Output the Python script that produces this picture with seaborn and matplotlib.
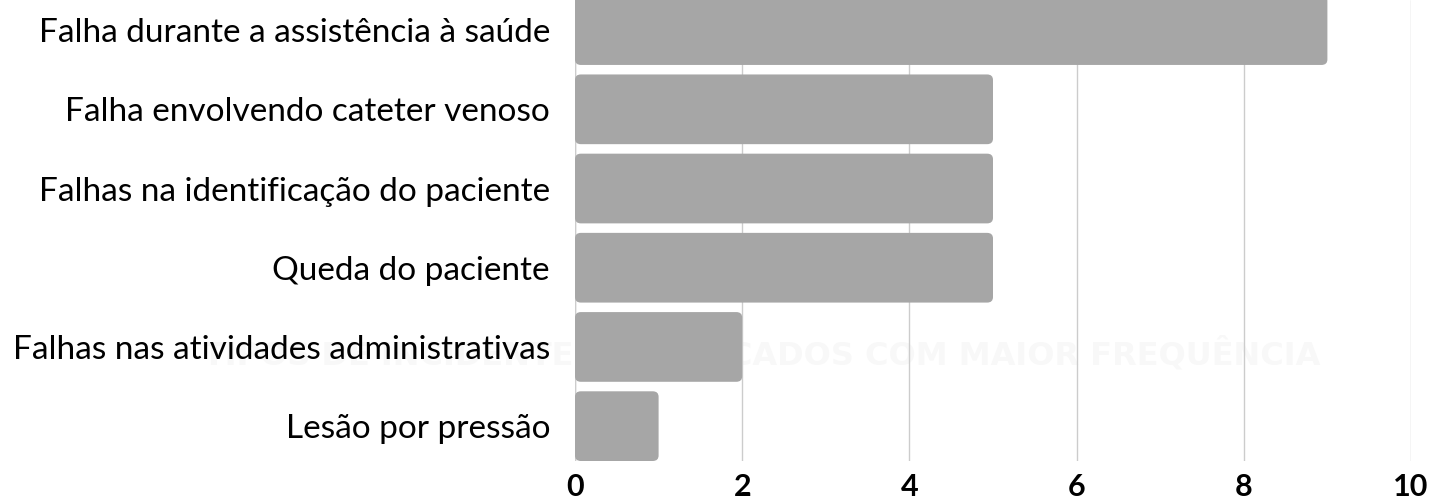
import pandas as pd
import matplotlib.pyplot as plt
import seaborn as sns
from matplotlib.patches import FancyBboxPatch

# dados
categorias = ['Falha durante a assistência à saúde',
              'Falha envolvendo cateter venoso',
              'Falhas na identificação do paciente',
              'Queda do paciente',
              'Falhas nas atividades administrativas',
              'Lesão por pressão']
valores = [9, 5, 5, 5, 2, 1]
ticks_x = [0, 2, 4, 6, 8, 10]
titulo_fundo = 'TIPOS DE INCIDENTES NOTIFICADOS COM MAIOR FREQUÊNCIA'

df = pd.DataFrame({'categoria': categorias, 'valor': valores})

sns.set_style('white')
plt.rcParams['font.family'] = ['Lato', 'DejaVu Sans']

fig = plt.figure(figsize=(14.29, 5.03), dpi=100)
ax = fig.add_axes([575 / 1429, 1 - 461 / 503, (1411 - 575) / 1429, 461 / 503])

# texto de fundo (marca d'agua), atras das barras e dos rotulos
ax.text(762 / 1429, 1 - 354 / 503, titulo_fundo, transform=fig.transFigure,
        ha='center', va='center', fontsize=23, fontweight='bold',
        color='#f8f8f8', family=['DejaVu Sans'], zorder=-1, clip_on=False)

sns.barplot(data=df, x='valor', y='categoria', color='#a6a6a6', width=0.88,
            saturation=1, ax=ax, zorder=3)

# cantos arredondados
for p in list(ax.patches):
    x, y = p.get_x(), p.get_y()
    w, h = p.get_width(), p.get_height()
    box = FancyBboxPatch((x, y), w, h, boxstyle='round,pad=0,rounding_size=0.07',
                         mutation_aspect=1.0, facecolor='#a6a6a6', edgecolor='none',
                         zorder=3)
    p.remove()
    ax.add_patch(box)

ax.set_xlim(0, 10)
ax.set_ylim(5.44, -0.38)
ax.set_xticks(ticks_x)
ax.set_xticklabels([str(t) for t in ticks_x], fontsize=22, fontweight='bold', color='black')
ax.tick_params(axis='y', labelsize=24, pad=18, length=0, labelcolor='black')
ax.tick_params(axis='x', pad=9, length=0)
ax.set_xlabel('')
ax.set_ylabel('')
ax.patch.set_alpha(0)
ax.grid(axis='x', color='#cccccc', linewidth=1, zorder=0)
ax.set_axisbelow(True)
for s in ax.spines.values():
    s.set_visible(False)
ax.axvline(0, color='#cccccc', linewidth=1, zorder=1)

plt.savefig('out.png', dpi=100)
